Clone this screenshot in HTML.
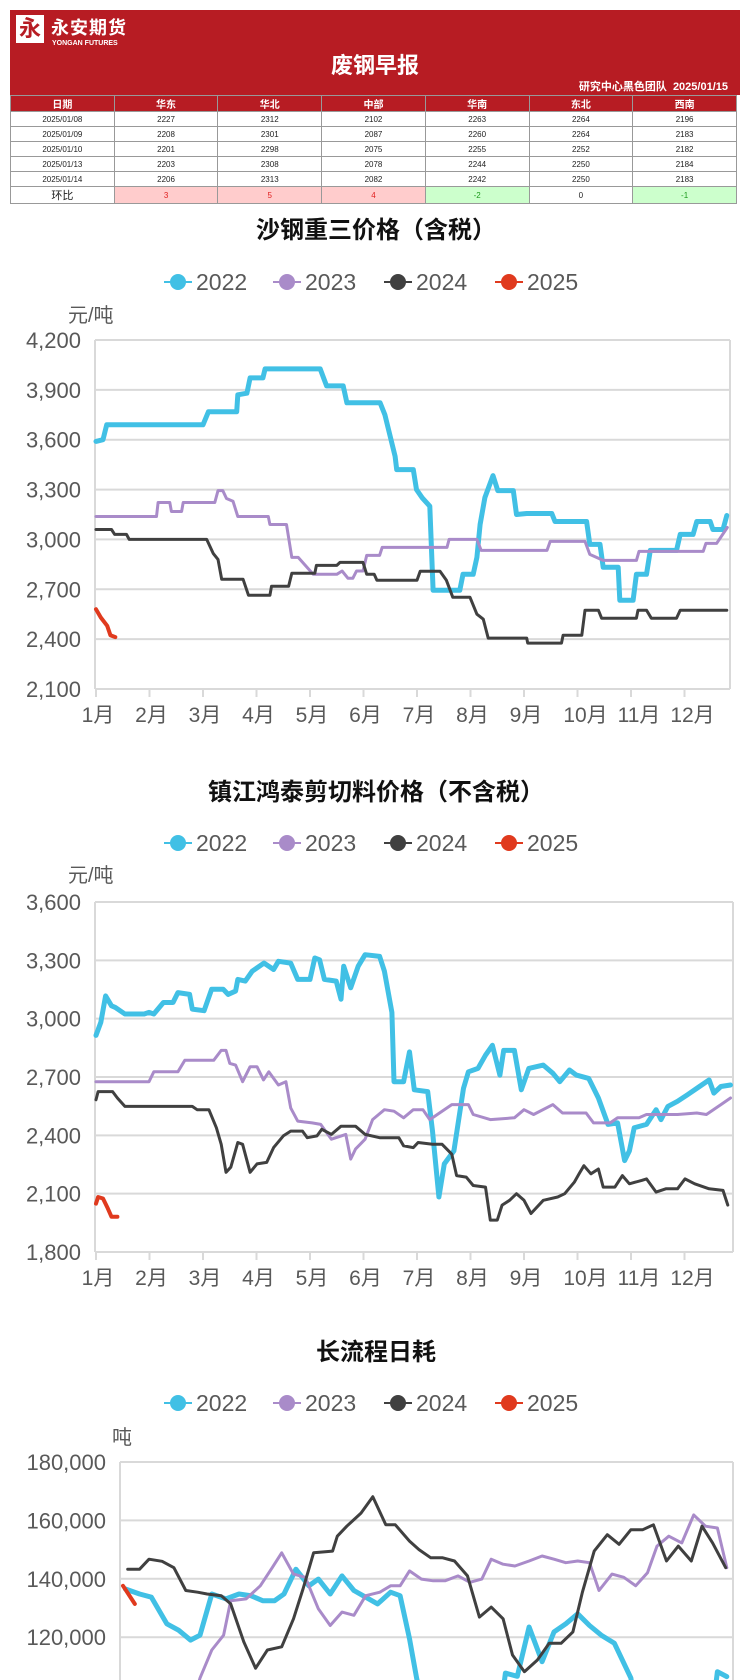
<!DOCTYPE html>
<html><head><meta charset="utf-8">
<style>
body{margin:0;width:750px;height:1680px;overflow:hidden;background:#fff;font-family:"Liberation Sans","Noto Sans CJK SC",sans-serif;position:relative}
#hdr{position:absolute;left:10px;top:10px;width:730px;height:85px;background:#b71c23;color:#fff}
#logo{position:absolute;left:6px;top:5px;width:28px;height:28px;background:#fff;color:#b71c23;font-weight:bold;font-size:22px;line-height:28px;text-align:center}
#brand{position:absolute;left:41px;top:4px;font-size:18px;font-weight:bold;letter-spacing:1px}
#brand-en{position:absolute;left:42px;top:30px;font-size:7px;font-weight:bold}
#ttl{position:absolute;left:0;width:730px;top:38px;text-align:center;font-size:22px;font-weight:bold}
#sub{position:absolute;right:12px;top:68px;font-size:11px;font-weight:bold}
table{position:absolute;left:10px;top:95px;width:727px;border-collapse:collapse;table-layout:fixed}
td,th{border:1px solid #999;height:14px;padding:0;text-align:center;font-size:8px;color:#222}
th{background:#b71c23;color:#fff;font-size:10px;height:14px}
.up{background:#ffcccc;color:#e02020}.dn{background:#ccffcc;color:#1a9a1a}
svg{position:absolute;left:0;top:0}
</style></head><body>
<div id="hdr">
<div id="logo">永</div>
<div id="brand">永安期货</div>
<div id="brand-en">YONGAN FUTURES</div>
<div id="ttl">废钢早报</div>
<div id="sub">研究中心黑色团队&nbsp; 2025/01/15</div>
</div>
<table>
<tr><th>日期</th><th>华东</th><th>华北</th><th>中部</th><th>华南</th><th>东北</th><th>西南</th></tr>
<tr><td>2025/01/08</td><td>2227</td><td>2312</td><td>2102</td><td>2263</td><td>2264</td><td>2196</td></tr>
<tr><td>2025/01/09</td><td>2208</td><td>2301</td><td>2087</td><td>2260</td><td>2264</td><td>2183</td></tr>
<tr><td>2025/01/10</td><td>2201</td><td>2298</td><td>2075</td><td>2255</td><td>2252</td><td>2182</td></tr>
<tr><td>2025/01/13</td><td>2203</td><td>2308</td><td>2078</td><td>2244</td><td>2250</td><td>2184</td></tr>
<tr><td>2025/01/14</td><td>2206</td><td>2313</td><td>2082</td><td>2242</td><td>2250</td><td>2183</td></tr>
<tr><td style="font-size:11px">环比</td><td class="up">3</td><td class="up">5</td><td class="up">4</td><td class="dn">-2</td><td>0</td><td class="dn">-1</td></tr>
</table>
<svg id="svg" width="750" height="1680"></svg>
<script>
// ---- Chart 1: 沙钢重三 (month, value)
const c1_2022_t=[1.0,1.13,1.2,3.0,3.1,3.63,3.65,3.82,3.88,4.12,4.16,5.19,5.31,5.62,5.69,6.31,6.4,6.59,6.62,6.93,6.99,7.1,7.24,7.3,7.8,7.86,8.05,8.12,8.18,8.27,8.42,8.51,8.8,8.86,9.05,9.52,9.58,10.17,10.23,10.42,10.48,10.76,10.79,11.04,11.1,11.29,11.36,11.85,11.92,12.16,12.23,12.48,12.53,12.72,12.79];
const c1_2022_v=[3590,3600,3690,3690,3768,3768,3870,3880,3972,3972,4026,4026,3924,3924,3822,3822,3750,3500,3420,3420,3300,3250,3200,2694,2694,2790,2790,2892,3090,3252,3384,3294,3294,3150,3156,3156,3108,3108,2970,2970,2832,2832,2634,2634,2790,2790,2934,2934,3030,3030,3108,3108,3060,3060,3144];
const c1_2023_t=[1.0,2.13,2.16,2.38,2.41,2.6,2.63,3.22,3.28,3.37,3.44,3.56,3.65,4.22,4.25,4.56,4.66,4.78,5.06,5.5,5.6,5.71,5.8,5.87,5.99,6.06,6.3,6.35,7.56,7.6,8.12,8.2,9.43,9.49,10.14,10.23,10.48,11.1,11.15,12.35,12.4,12.6,12.8];
const c1_2023_v=[3138,3138,3222,3222,3168,3168,3222,3222,3294,3294,3246,3230,3138,3138,3090,3090,2892,2892,2790,2790,2810,2766,2766,2810,2810,2904,2904,2952,2952,3000,3000,2934,2934,2988,2988,2910,2874,2874,2928,2928,2976,2976,3072];
const c1_2024_t=[1.0,1.29,1.35,1.57,1.62,3.07,3.19,3.28,3.35,3.75,3.85,4.25,4.28,4.6,4.66,5.09,5.12,5.5,5.56,5.99,6.06,6.2,6.25,7.0,7.06,7.43,7.55,7.67,7.99,8.12,8.24,8.33,9.05,9.07,9.7,9.73,10.08,10.14,10.39,10.45,11.1,11.13,11.29,11.38,11.85,11.92,12.79];
const c1_2024_v=[3060,3060,3030,3030,3000,3000,2916,2880,2760,2760,2664,2664,2718,2718,2796,2796,2844,2844,2862,2862,2790,2790,2754,2754,2808,2808,2754,2652,2652,2550,2520,2406,2406,2376,2376,2424,2424,2574,2574,2526,2526,2574,2574,2526,2526,2574,2574];
const c1_2025_t=[1.0,1.09,1.21,1.27,1.36];
const c1_2025_v=[2580,2530,2480,2424,2412];
const c1_ticks=[2100,2400,2700,3000,3300,3600,3900,4200];
// ---- Chart 2: 镇江鸿泰 (month, value)
const c2_2022_t=[1.0,1.09,1.18,1.29,1.36,1.54,1.9,1.99,2.08,2.26,2.44,2.53,2.75,2.8,3.02,3.16,3.38,3.47,3.61,3.65,3.79,3.92,4.14,4.32,4.41,4.64,4.77,5.0,5.09,5.18,5.27,5.49,5.58,5.63,5.76,5.9,6.03,6.3,6.39,6.53,6.57,6.75,6.86,6.95,7.2,7.29,7.41,7.51,7.69,7.87,7.96,8.14,8.28,8.41,8.55,8.62,8.82,8.95,9.09,9.36,9.54,9.67,9.85,9.98,10.21,10.39,10.57,10.75,10.88,10.97,11.06,11.29,11.47,11.56,11.69,11.87,12.05,12.28,12.46,12.55,12.68,12.86];
const c2_2022_v=[2914,2981,3117,3066,3058,3024,3024,3032,3024,3083,3083,3134,3125,3049,3041,3151,3151,3125,3142,3202,3193,3244,3286,3253,3295,3286,3202,3202,3312,3303,3202,3193,3100,3270,3159,3270,3329,3320,3244,3032,2676,2676,2829,2634,2625,2422,2083,2253,2320,2642,2727,2744,2812,2863,2710,2837,2837,2634,2744,2761,2719,2676,2736,2710,2693,2592,2456,2464,2270,2320,2439,2456,2532,2481,2549,2575,2608,2651,2685,2617,2651,2659];
const c2_2023_t=[1.0,1.99,2.08,2.53,2.66,3.2,3.34,3.43,3.5,3.61,3.74,3.88,4.01,4.13,4.23,4.41,4.55,4.64,4.77,5.04,5.2,5.4,5.67,5.76,5.85,6.03,6.17,6.39,6.57,6.75,6.93,7.11,7.24,7.42,7.65,7.96,8.05,8.37,8.82,9.0,9.18,9.54,9.72,10.16,10.3,10.61,10.75,11.15,11.29,11.69,11.87,12.23,12.41,12.68,12.86];
const c2_2023_v=[2676,2676,2727,2727,2786,2786,2837,2837,2770,2761,2676,2753,2753,2685,2727,2659,2676,2541,2473,2464,2456,2380,2405,2278,2329,2380,2481,2532,2524,2490,2532,2532,2481,2515,2558,2558,2507,2481,2490,2532,2507,2558,2515,2515,2464,2464,2490,2490,2507,2507,2507,2515,2507,2558,2592];
const c2_2024_t=[1.0,1.04,1.31,1.4,1.54,2.8,2.89,3.11,3.25,3.34,3.43,3.52,3.65,3.74,3.88,4.01,4.19,4.32,4.5,4.64,4.86,4.95,5.13,5.22,5.4,5.58,5.85,6.03,6.3,6.66,6.75,6.93,7.02,7.29,7.47,7.65,7.74,7.92,8.05,8.28,8.37,8.5,8.59,8.73,8.86,9.0,9.13,9.36,9.63,9.76,9.94,10.03,10.12,10.25,10.39,10.48,10.7,10.84,10.97,11.2,11.29,11.47,11.65,11.87,12.01,12.19,12.46,12.72,12.81];
const c2_2024_v=[2583,2625,2625,2592,2549,2549,2532,2532,2439,2354,2210,2236,2363,2354,2210,2253,2261,2337,2397,2422,2422,2388,2397,2431,2405,2447,2447,2405,2388,2388,2346,2337,2363,2354,2354,2303,2193,2185,2142,2134,1964,1964,2041,2066,2100,2066,1998,2066,2083,2100,2159,2202,2244,2202,2227,2134,2134,2193,2151,2168,2176,2108,2125,2125,2176,2151,2125,2117,2041];
const c2_2025_t=[1.0,1.04,1.13,1.22,1.29,1.4];
const c2_2025_v=[2049,2083,2075,2024,1981,1981];
const c2_ticks=[1800,2100,2400,2700,3000,3300,3600];
// ---- Chart 3: 长流程日耗 (week, value in thousand tons)
const c3_2022_t=[0.2,1.4,2.4,3.7,4.7,5.7,6.5,7.5,8.7,9.8,10.8,11.8,12.8,13.6,14.6,15.7,16.5,17.5,18.5,19.5,20.5,21.5,22.6,23.4,24.2,24.8,25.4,31.9,32.3,33.3,34.3,35.4,36.4,37.4,38.4,39.4,40.4,41.5,42.5,42.9,43.3,49.8,50.2,51];
const c3_2022_v=[136.5,134.8,133.7,124.6,122.4,119,120.7,134.8,133.1,134.8,134.2,132.5,132.5,134.8,143.3,137.6,139.9,134.8,141,136,133.7,131.4,135.4,134.2,119.5,106,95,95,107.7,106.6,123.5,111.6,121.8,124.6,128,124,120.7,117.9,109.4,106,95,95,108.2,106.5];
const c3_2023_t=[0,5.5,6.5,7.5,8.5,9.1,10.4,11.6,12.6,13.4,14.4,15.4,16.5,17.5,18.5,19.5,20.5,21.7,22.6,23.4,24.2,25.2,26.2,27.2,28.3,29.3,30.3,31.1,32.1,33.1,34.3,35.4,36.4,37.4,38.4,39.4,40.2,41.3,42.3,43.3,44.3,45.1,46.1,47.2,48.2,49.2,50.2,51];
const c3_2023_v=[92,92,106,115.6,120.7,132.5,133.1,137.6,143.8,148.9,141.6,140.5,129.7,124,128.6,127.5,134.2,135.4,137.6,137.6,142.7,139.9,139.3,139.3,141,138.8,139.9,146.7,145,144.4,146.1,147.8,146.7,145.5,146.1,145.5,136,141.6,140.5,137.6,142.1,151.2,154.6,152.3,161.9,158,157.4,143.8];
const c3_2024_t=[0.4,1.4,2.2,3.3,4.3,5.3,6.3,7.1,8.3,9.1,10.2,11.2,12.2,13.4,14.4,15.2,16.1,17.7,18.1,18.9,20.1,21.1,22.2,23,24.2,25,26,27,28,29.1,30.1,31.1,32.1,32.9,33.9,35,36,37,38,38.8,39.8,40.9,41.9,42.9,43.9,44.8,45.9,46.9,48,48.9,49.8,50.9];
const c3_2024_v=[143.3,143.3,146.7,146,143.8,136,135.4,134.8,134.2,131.4,118.4,109.4,115.6,116.7,126.3,136.5,148.9,149.5,154.6,158,162.5,168.1,158.5,158.5,152.9,150,147.2,147.2,146.1,141,126.9,130.3,126.3,113.9,108.2,112.2,117.9,117.9,121.8,135.4,149.5,155.1,151.8,156.8,156.8,158.5,146.1,151.2,146.1,158,152.3,143.8];
const c3_2025_t=[0,1];
const c3_2025_v=[137.6,131.4];
const c3_ticks=[100,120,140,160,180];
const c3_tickLabels=["100,000","120,000","140,000","160,000","180,000"];
const months=["1月","2月","3月","4月","5月","6月","7月","8月","9月","10月","11月","12月"];
const years=["2022","2023","2024","2025"];
const colors=["#41c0e5","#a98bc9","#404040","#e03a1e"];
const widths=[5,3,3,4];

const NS="http://www.w3.org/2000/svg";
const svg=document.getElementById('svg');
function mk(tag,attrs,parent){const e=document.createElementNS(NS,tag);for(const k in attrs)e.setAttribute(k,attrs[k]);(parent||svg).appendChild(e);return e;}
function fmt(v){return v.toLocaleString('en-US');}

function chart(cfg){
  const g=mk('g',{});
  
  
  const t=mk('text',{x:376,y:cfg.titleY,'text-anchor':'middle','font-size':24,'font-weight':'bold',fill:'#111'},g);
  t.textContent=cfg.title;
  
  
  const lx=[178,287,398,509];
  years.forEach((y,i)=>{
    const le=mk('g',{},g);
    
    
    mk('line',{x1:lx[i]-14,x2:lx[i]+14,y1:cfg.legendY,y2:cfg.legendY,stroke:colors[i],'stroke-width':2},le);
    mk('circle',{cx:lx[i],cy:cfg.legendY,r:8,fill:colors[i]},le);
    const tx=mk('text',{x:lx[i]+18,y:cfg.legendY+8,'font-size':23,fill:'#595959'},le);
    tx.textContent=y;
  });
  const yv=v=>cfg.y0-(v-cfg.ymin)/(cfg.ymax-cfg.ymin)*(cfg.y0-cfg.y1);
  const u=mk('text',{x:cfg.unitX,y:cfg.unitY,'font-size':20,fill:'#595959'},g);
  u.textContent=cfg.unit;
  
  
  cfg.ticks.forEach((v,i)=>{
    const yy=yv(v);
    if(yy>1700)return;
    const gl=mk('line',{x1:cfg.x0,x2:cfg.x1,y1:yy,y2:yy,stroke:'#d9d9d9','stroke-width':2},g);
    
    
    const tl=mk('text',{x:cfg.x0-14,y:yy+8,'text-anchor':'end','font-size':22,fill:'#595959'},g);
    tl.textContent=cfg.tickLabels?cfg.tickLabels[i]:fmt(v);
    
    
  });
  mk('line',{x1:cfg.x0,x2:cfg.x0,y1:cfg.y1,y2:Math.min(cfg.y0,1680),stroke:'#d9d9d9','stroke-width':2},g);
  mk('line',{x1:cfg.x1,x2:cfg.x1,y1:cfg.y1,y2:Math.min(cfg.y0,1680),stroke:'#d9d9d9','stroke-width':2},g);
  if(cfg.monthY){
    months.forEach((m,i)=>{
      const xx=cfg.xs(i+1);
      mk('line',{x1:xx,x2:xx,y1:cfg.y0,y2:cfg.y0+8,stroke:'#d9d9d9','stroke-width':2},g);
      const ml=mk('text',{x:xx+(i>=9?8:2),y:cfg.monthY,'text-anchor':'middle','font-size':21,fill:'#595959'},g);
      ml.textContent=m;
      
      
    });
  }
  const cid='clip'+cfg.name;
  const cp=mk('clipPath',{id:cid},g);
  mk('rect',{x:cfg.x0-4,y:cfg.y1-4,width:cfg.x1-cfg.x0+8,height:cfg.y0-cfg.y1+4},cp);
  cfg.series.forEach((s,i)=>{
    const d=s[0].map((tt,k)=>(k?'L':'M')+cfg.xs(tt).toFixed(1)+','+yv(s[1][k]).toFixed(1)).join('');
    const p=mk('path',{d:d,fill:'none',stroke:colors[i],'stroke-width':widths[i],'stroke-linejoin':'round','stroke-linecap':'round','clip-path':'url(#'+cid+')'},g);
    
    
  });
}
const mx=m=>96+(m-1)*53.5;
chart({name:'chart-shagang-price',title:'沙钢重三价格（含税）',titleY:238,legendY:282,unit:'元/吨',unitX:68,unitY:322,
  x0:95,x1:730,y0:689,y1:340,ymin:2100,ymax:4200,ticks:c1_ticks,xs:mx,monthY:722,
  series:[[c1_2022_t,c1_2022_v],[c1_2023_t,c1_2023_v],[c1_2024_t,c1_2024_v],[c1_2025_t,c1_2025_v]]});
chart({name:'chart-zhenjiang-price',title:'镇江鸿泰剪切料价格（不含税）',titleY:800,legendY:843,unit:'元/吨',unitX:68,unitY:882,
  x0:95,x1:733,y0:1252,y1:902,ymin:1800,ymax:3600,ticks:c2_ticks,xs:mx,monthY:1285,
  series:[[c2_2022_t,c2_2022_v],[c2_2023_t,c2_2023_v],[c2_2024_t,c2_2024_v],[c2_2025_t,c2_2025_v]]});
chart({name:'chart-daily-consumption',title:'长流程日耗',titleY:1360,legendY:1403,unit:'吨',unitX:112,unitY:1444,
  x0:120,x1:733,y0:1754,y1:1462,ymin:80,ymax:180,ticks:c3_ticks,tickLabels:c3_tickLabels,xs:w=>123+w*11.84,monthY:0,
  series:[[c3_2022_t,c3_2022_v],[c3_2023_t,c3_2023_v],[c3_2024_t,c3_2024_v],[c3_2025_t,c3_2025_v]]});
</script>
</body></html>
